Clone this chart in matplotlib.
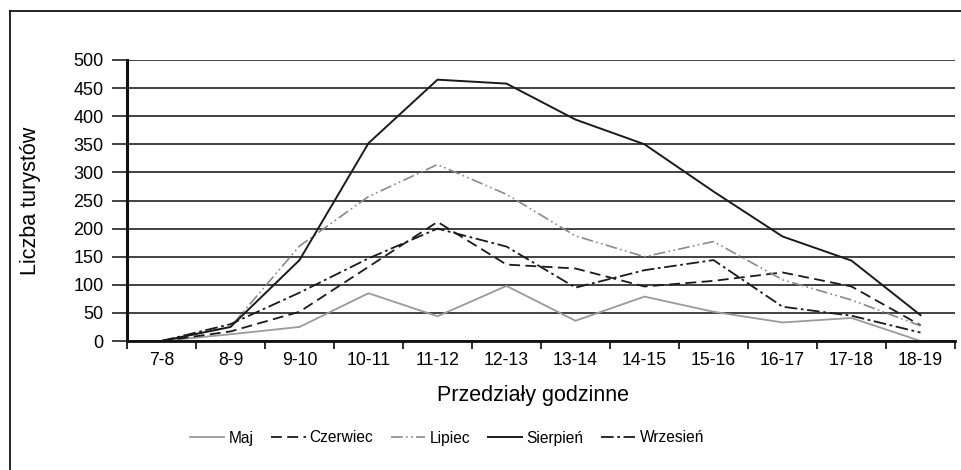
import matplotlib
matplotlib.use("Agg")
import matplotlib.pyplot as plt
from matplotlib.lines import Line2D
from matplotlib.font_manager import FontProperties
import numpy as np

plt.rcParams['font.family'] = ['Liberation Sans', 'DejaVu Sans']

hours = ["7-8", "8-9", "9-10", "10-11", "11-12", "12-13", "13-14",
         "14-15", "15-16", "16-17", "17-18", "18-19"]

maj = [0, 12, 25, 85, 44, 98, 36, 79, 52, 33, 41, 0]
czerwiec = [0, 17, 52, 132, 212, 136, 129, 97, 107, 122, 97, 28]
lipiec = [0, 25, 169, 257, 314, 261, 187, 150, 177, 109, 73, 27]
sierpien = [0, 25, 144, 352, 465, 458, 394, 350, 266, 186, 143, 46]
wrzesien = [0, 30, 86, 147, 200, 168, 95, 126, 144, 61, 45, 15]

fig = plt.figure(figsize=(9.62, 4.70), dpi=100)
ax = fig.add_axes([127/962, 1-341/470, (955-127)/962, (341-60)/470])

x = np.arange(len(hours)) + 0.5

ax.plot(x, maj, color='#9a9a9a', lw=1.3, ls='-', label='Maj')
ax.plot(x, czerwiec, color='#1a1a1a', lw=1.3, ls=(0, (6, 3)), label='Czerwiec')
ax.plot(x, lipiec, color='#8a8a8a', lw=1.2, ls=(0, (7, 2, 1, 2, 1, 2)), label='Lipiec')
ax.plot(x, sierpien, color='#1a1a1a', lw=1.4, ls='-', label='Sierpień')
ax.plot(x, wrzesien, color='#1a1a1a', lw=1.3, ls=(0, (7, 2, 1.5, 2)), label='Wrzesień')

ax.set_xlim(0, len(hours))
ax.set_ylim(0, 500)
ax.set_yticks(np.arange(0, 501, 50))
ax.set_xticks(x)
ax.set_xticklabels(hours)
ax.set_xticks(np.arange(0, len(hours) + 1), minor=True)

ax.grid(axis='y', color='#333333', lw=1.3)
ax.set_axisbelow(True)
ax.tick_params(axis='y', which='major', direction='out', length=11, width=1.3,
               color='#333333', labelsize=13, pad=6)
ax.tick_params(axis='x', which='major', length=0, labelsize=12.7, pad=8)
ax.tick_params(axis='x', which='minor', direction='out', length=6, width=1.3,
               color='#1a1a1a')

for side in ('top', 'right'):
    ax.spines[side].set_visible(False)
ax.spines['left'].set_linewidth(2.2)
ax.spines['left'].set_color('#111111')
ax.spines['bottom'].set_linewidth(2.0)
ax.spines['bottom'].set_color('#111111')

ax.set_ylabel('Liczba turystów', fontsize=15.5, va='center')
ax.yaxis.set_label_coords((31 - 127) / 828, 0.5)
ax.set_xlabel('Przedziały godzinne', fontsize=15.5, va='center')
ax.xaxis.set_label_coords((533 - 127) / 828, (341 - 395) / 281)

legend_font = FontProperties(family=['Liberation Sans Narrow', 'Liberation Sans'],
                             size=11.2)
ax.legend(loc='center', bbox_to_anchor=(447/962, 1-438/470),
          bbox_transform=fig.transFigure, ncol=5, frameon=False,
          prop=legend_font, handlelength=2.2, handletextpad=0.26,
          columnspacing=1.15)

# outer frame around the figure
fig.add_artist(Line2D([9.5/962, 9.5/962], [0, 1-11/470], transform=fig.transFigure,
                      color='black', lw=1.2))
fig.add_artist(Line2D([9.5/962, 1], [1-11/470, 1-11/470], transform=fig.transFigure,
                      color='black', lw=1.2))

fig.savefig('out.png', dpi=100)
